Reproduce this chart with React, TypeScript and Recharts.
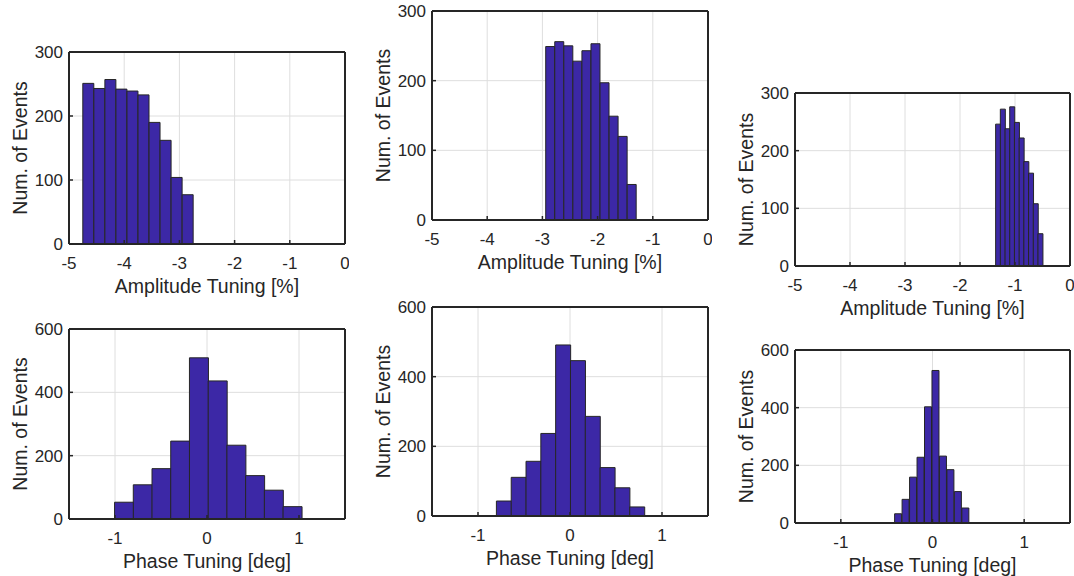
import React from 'react'
import {Bar, BarChart, CartesianGrid, XAxis, YAxis} from 'recharts'

// axis ticks
const ampTicks = [-5, -4, -3, -2, -1, 0]
const phaseTicks = [-1, 0, 1]
const ampCountTicks = [0, 100, 200, 300]
const phaseCountTicks = [0, 200, 400, 600]

// top row: amplitude tuning histograms (bin centers / counts)
const amp1Bins = [-4.65, -4.45, -4.25, -4.05, -3.85, -3.65, -3.45, -3.25, -3.05, -2.85]
const amp1Counts = [251, 243, 257, 242, 239, 233, 190, 162, 104, 77]

const amp2Bins = [-2.858, -2.694, -2.53, -2.366, -2.202, -2.038, -1.874, -1.71, -1.546, -1.382]
const amp2Counts = [249, 256, 250, 228, 243, 253, 197, 149, 120, 51]

const amp3Bins = [-1.3095, -1.224, -1.1385, -1.053, -0.9675, -0.882, -0.7965, -0.711, -0.6255, -0.54]
const amp3Counts = [246, 272, 238, 276, 249, 222, 181, 161, 108, 56]

// bottom row: phase tuning histograms
const phase1Bins = [-0.903, -0.6995, -0.496, -0.2925, -0.089, 0.1145, 0.318, 0.5215, 0.725, 0.9285]
const phase1Counts = [53, 108, 159, 246, 509, 436, 233, 137, 91, 39]

const phase2Bins = [-0.7195, -0.5585, -0.3975, -0.2365, -0.0755, 0.0855, 0.2465, 0.4075, 0.5685, 0.7295]
const phase2Counts = [43, 111, 157, 237, 491, 446, 286, 139, 81, 26]

const phase3Bins = [-0.3725, -0.291, -0.2095, -0.128, -0.0465, 0.035, 0.1165, 0.198, 0.2795, 0.361]
const phase3Counts = [32, 82, 159, 228, 403, 529, 232, 185, 109, 52]

type Point = {x: number, n: number}
const toData = (bins: number[], counts: number[]): Point[] => bins.map((x, i) => ({x, n: counts[i]}))

const FONT = '"Liberation Sans", Arial, Helvetica, sans-serif'
const INK = '#262626'
const ML = 70
const MT = 10
const MR = 4
const XH = 53

type PanelProps = {
    left: number
    top: number
    w: number
    h: number
    data: Point[]
    xDomain: [number, number]
    xTicks: number[]
    yDomain: [number, number]
    yTicks: number[]
    xLabel: string
}

const YLabel = (props: any) => {
    const vb = props.viewBox || {x: 0, y: 0, width: 0, height: 0}
    const cx = vb.x + 20.5
    const cy = vb.y + vb.height / 2
    return (
        <text x={cx} y={cy} transform={`rotate(-90, ${cx}, ${cy})`} textAnchor='middle' dominantBaseline='central'
            fill={INK} fontSize={19.5} fontFamily={FONT}>Num. of Events</text>
    )
}

// top / right axes are 1px wide so recharts still draws them (closes the box)
const Panel = ({left, top, w, h, data, xDomain, xTicks, yDomain, yTicks, xLabel}: PanelProps) => {
    const tick = {fill: INK, fontSize: 17, fontFamily: FONT}
    const axisLine = {stroke: INK, strokeWidth: 2}
    const tickLine = {stroke: INK, strokeWidth: 1.5}
    return (
        <div style={{position: 'absolute', left: left - ML, top: top - MT}}>
            <BarChart width={ML + w + MR} height={MT + h + XH} data={data}
                margin={{top: MT - 1, right: MR - 1, left: 0, bottom: 0}} barCategoryGap={0} barGap={0}>
                <CartesianGrid stroke='#dedede' strokeWidth={1} />
                <XAxis dataKey='x' type='number' domain={xDomain} ticks={xTicks} interval={0} height={XH}
                    tickSize={-4} tickMargin={17} axisLine={axisLine} tickLine={tickLine} tick={tick}
                    label={{value: xLabel, position: 'insideBottom', offset: 4, fill: INK, fontSize: 19.5, fontFamily: FONT}} />
                <XAxis xAxisId='top' orientation='top' dataKey='x' type='number' domain={xDomain} ticks={xTicks}
                    interval={0} height={1} tickSize={-4} axisLine={axisLine} tickLine={tickLine} tick={false} />
                <YAxis type='number' domain={yDomain} ticks={yTicks} interval={0} width={ML}
                    tickSize={-4} tickMargin={10} axisLine={axisLine} tickLine={tickLine} tick={tick}
                    label={{content: YLabel}} />
                <YAxis yAxisId='right' orientation='right' type='number' domain={yDomain} ticks={yTicks} interval={0}
                    width={1} tickSize={-4} axisLine={axisLine} tickLine={tickLine} tick={false} />
                <Bar dataKey='n' fill='#3c28a6' stroke={INK} strokeWidth={1} isAnimationActive={false} />
            </BarChart>
        </div>
    )
}

const App = () => {
    return (
        <div style={{position: 'absolute', left: 0, top: 0, width: 1074, height: 576, overflow: 'hidden', background: '#fff'}}>
            <Panel left={69} top={52} w={276} h={192} data={toData(amp1Bins, amp1Counts)}
                xDomain={[-5, 0]} xTicks={ampTicks} yDomain={[0, 300]} yTicks={ampCountTicks} xLabel='Amplitude Tuning [%]' />
            <Panel left={432} top={11} w={276} h={209} data={toData(amp2Bins, amp2Counts)}
                xDomain={[-5, 0]} xTicks={ampTicks} yDomain={[0, 300]} yTicks={ampCountTicks} xLabel='Amplitude Tuning [%]' />
            <Panel left={795} top={93} w={275} h={173} data={toData(amp3Bins, amp3Counts)}
                xDomain={[-5, 0]} xTicks={ampTicks} yDomain={[0, 300]} yTicks={ampCountTicks} xLabel='Amplitude Tuning [%]' />
            <Panel left={69} top={329} w={276} h={190} data={toData(phase1Bins, phase1Counts)}
                xDomain={[-1.5, 1.5]} xTicks={phaseTicks} yDomain={[0, 600]} yTicks={phaseCountTicks} xLabel='Phase Tuning [deg]' />
            <Panel left={432} top={307} w={276} h={209} data={toData(phase2Bins, phase2Counts)}
                xDomain={[-1.5, 1.5]} xTicks={phaseTicks} yDomain={[0, 600]} yTicks={phaseCountTicks} xLabel='Phase Tuning [deg]' />
            <Panel left={795} top={350} w={275} h={173} data={toData(phase3Bins, phase3Counts)}
                xDomain={[-1.5, 1.5]} xTicks={phaseTicks} yDomain={[0, 600]} yTicks={phaseCountTicks} xLabel='Phase Tuning [deg]' />
        </div>
    )
}

export default App
